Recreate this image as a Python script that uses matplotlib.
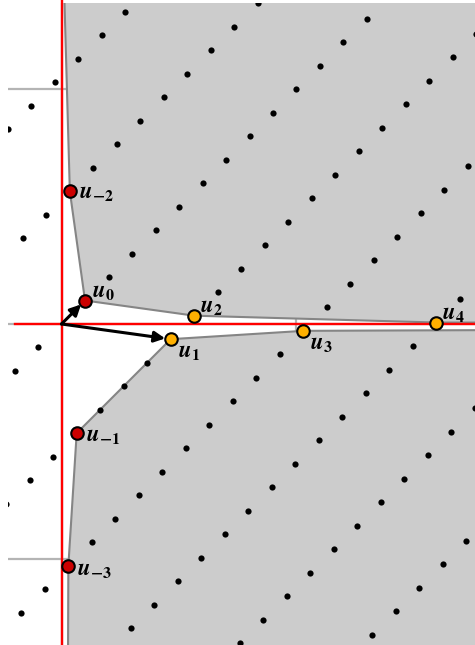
import numpy as np
import matplotlib
matplotlib.use("Agg")
import matplotlib.pyplot as plt

plt.rcParams["mathtext.fontset"] = "stix"

# Lattice Z[sqrt(7)] embedded as (a + b*sqrt7, a - b*sqrt7)
ROOT = np.sqrt(7.0)

# Klein-sail vertices u_k = a + b*sqrt7
vertex_names = ["u_{-3}", "u_{-2}", "u_{-1}", "u_0", "u_1", "u_2", "u_3", "u_4"]
vertex_a = [-5, 3, -2, 1, 2, 3, 5, 8]
vertex_b = [2, -1, 1, 0, 1, 1, 2, 3]
vertex_colors = ["#cc0000", "#cc0000", "#cc0000", "#cc0000",
                 "#ffb000", "#ffb000", "#ffb000", "#ffb000"]
# label offsets (points) relative to each vertex
label_dx = [6.5, 6.5, 6.5, 5, 5, 4.5, 5, 4.5]
label_dy = [-2, 0, -1, 7, -8.5, 7, -8.5, 7]

# vertices of the upper (x>0, y>0) and lower (x>0, y<0) sails
upper_a = [8, 3, 1, 3, 8, 45]
upper_b = [-3, -1, 0, 1, 3, 17]
lower_a = [-37, -5, -2, 2, 5, 37]
lower_b = [14, 2, 1, 1, 2, 14]

# basis arrows drawn from the origin
arrow_targets = ["u_0", "u_1"]

# integer ranges of lattice coefficients
range_a = (-12, 22)
range_b = (-9, 10)


def embed(a, b):
    a = np.asarray(a, float)
    b = np.asarray(b, float)
    return a + b * ROOT, a - b * ROOT


fig = plt.figure(figsize=(4.75, 6.45), dpi=100)
ax = fig.add_axes([8 / 475, 0, 467 / 475, 642 / 645])
ax.set_xlim(-2.277, 17.596)
ax.set_ylim(-13.66, 13.66)
for s in ax.spines.values():
    s.set_visible(False)
ax.set_xticks([0, 10])
ax.set_yticks([-10, 0, 10])
ax.tick_params(length=0, labelbottom=False, labelleft=False)
ax.grid(True, color="#b4b4b4", lw=1.6, zorder=0)
ax.set_axisbelow(True)

# shaded regions above the sails
ux, uy = embed(upper_a, upper_b)
poly_u = list(zip(ux, uy)) + [(200, uy[-1]), (200, 200), (ux[0], 200)]
ax.add_patch(plt.Polygon(poly_u, closed=True, facecolor="#cccccc",
                         edgecolor="none", zorder=1))
lx, ly = embed(lower_a, lower_b)
poly_l = list(zip(lx, ly)) + [(200, ly[-1]), (200, -200), (lx[0], -200)]
ax.add_patch(plt.Polygon(poly_l, closed=True, facecolor="#cccccc",
                         edgecolor="none", zorder=1))
ax.plot(ux, uy, color="#858585", lw=1.5, zorder=2)
ax.plot(lx, ly, color="#858585", lw=1.5, zorder=2)

# coordinate axes
ax.plot([0, 0], [-14.5, 14.5], color="red", lw=1.7, zorder=3, clip_on=False)
ax.plot([-2.0, 17.6], [0, 0], color="red", lw=1.7, zorder=3, clip_on=False)

# lattice points
A, B = np.meshgrid(np.arange(*range_a), np.arange(*range_b))
A = A.ravel()
B = B.ravel()
keep = ~((A == 0) & (B == 0))
for a, b in zip(vertex_a, vertex_b):
    keep &= ~((A == a) & (B == b))
px, py = embed(A[keep], B[keep])
inside = (px > -3) & (px < 18.5) & (py > -14.5) & (py < 14.5)
ax.scatter(px[inside], py[inside], s=20, color="black", linewidths=0, zorder=4)

# basis arrows
vx, vy = embed(vertex_a, vertex_b)
for name in arrow_targets:
    i = vertex_names.index(name)
    ax.annotate("", xy=(vx[i], vy[i]), xytext=(0, 0),
                arrowprops=dict(arrowstyle="-|>", color="black", lw=2.2,
                                mutation_scale=16, shrinkA=0, shrinkB=4),
                zorder=5)

# sail vertices with labels
for i, name in enumerate(vertex_names):
    ax.plot(vx[i], vy[i], "o", ms=9, mfc=vertex_colors[i], mec="black",
            mew=1.5, zorder=6)
    base, sub = name.split("_")
    sub = sub.strip("{}")
    txt = r"$\boldsymbol{%s}_{\boldsymbol{%s}}$" % (base, sub)
    ax.annotate(txt, xy=(vx[i], vy[i]), xytext=(label_dx[i], label_dy[i]),
                textcoords="offset points", ha="left", va="center",
                fontsize=16.5, zorder=7)

fig.savefig("out.png", dpi=100)
